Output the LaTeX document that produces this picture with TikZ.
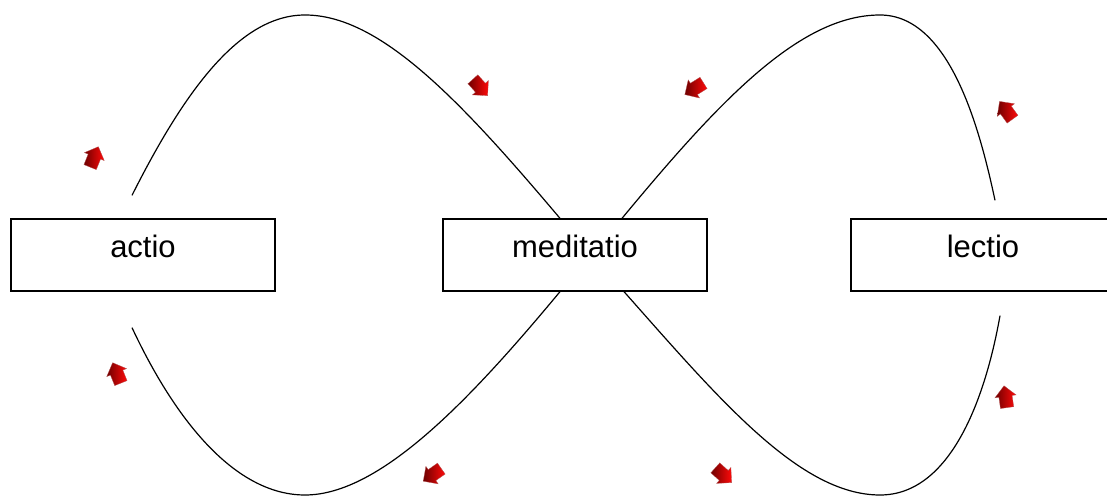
\documentclass[tikz,border=0pt]{standalone}
\usepackage{fontspec}
\setmainfont{Liberation Sans}
\usetikzlibrary{shapes.arrows,calc}
\definecolor{lpink}{HTML}{000000}
\definecolor{lpred}{HTML}{FF0A0A}
\definecolor{lpdark}{HTML}{6E0000}

\begin{document}
\begin{tikzpicture}[x=1pt, y=1pt, font=\fontsize{31}{36}\selectfont, text=lpink,
    stage/.style={draw=lpink, line width=1.3pt, minimum width=264pt, minimum height=72pt, inner sep=0pt,
      text height=22pt, text depth=16pt},
    loop/.style={draw=lpink, line width=1.2pt},
    flow/.style={single arrow, inner sep=6.5pt, minimum height=22pt,
      single arrow head extend=4pt, left color=lpdark, right color=lpred, draw=lpred!40!gray, line width=0.3pt},
  ]
  \useasboundingbox (0,0) rectangle (1107,498);

  % the three stages
  \node[stage] (actio) at (143, 243) {actio};
  \node[stage] (meditatio) at (575, 243) {meditatio};
  \node[stage] (lectio) at (983, 243) {lectio};

  % loose ends of the loops
  \coordinate (at) at ($(actio.north)+(-11, 23)$);
  \coordinate (ab) at ($(actio.south)+(-11, -36)$);
  \coordinate (lt) at ($(lectio.north)+(12, 18)$);
  \coordinate (lb) at ($(lectio.south)+(17, -24)$);

  % upper loops
  \draw[loop] (at) .. controls (185, 408) and (240, 483) .. (305, 483)
    .. controls (380, 483) and (460, 398) .. ([xshift=-15pt]meditatio.north);
  \draw[loop] ([xshift=47pt]meditatio.north) .. controls (720, 398) and (800, 483) .. (880, 483)
    .. controls (950, 483) and (980, 368) .. (lt);

  % lower loops
  \draw[loop] (ab) .. controls (180, 68) and (240, 3) .. (305, 3)
    .. controls (380, 3) and (470, 98) .. ([xshift=-15pt]meditatio.south);
  \draw[loop] ([xshift=49pt]meditatio.south) .. controls (720, 98) and (800, 3) .. (880, 3)
    .. controls (950, 3) and (985, 98) .. (lb);

  % direction markers
  \node[flow, rotate=68] (f1) at (93, 338) {};
  \node[flow, rotate=-48] (f2) at (478, 413) {};
  \node[flow, rotate=212] (f3) at (697, 411) {};
  \node[flow, rotate=126] (f4) at (1008, 385) {};
  \node[flow, rotate=112] (f5) at (118, 122) {};
  \node[flow, rotate=215] (f6) at (435, 25) {};
  \node[flow, rotate=-42] (f7) at (721, 25) {};
  \node[flow, rotate=98] (f8) at (1006, 98) {};
\end{tikzpicture}
\end{document}
